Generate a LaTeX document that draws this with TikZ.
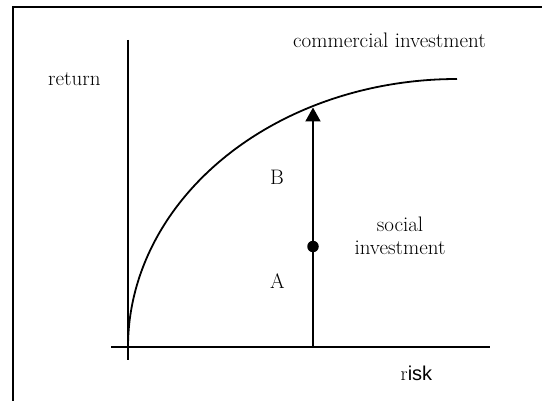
\documentclass[tikz,border=0pt]{standalone}
\usepackage{fontspec}
\newfontfamily\arialf{Liberation Sans}
\usetikzlibrary{arrows.meta}
\tikzset{
  axis/.style={line width=2pt},
  lbl/.style={inner sep=0pt, font=\fontsize{21}{23}\selectfont},
}
\begin{document}
\begin{tikzpicture}[x=1pt,y=-1pt]
\useasboundingbox (0,0) rectangle (542,401);
% frame
\coordinate (ftr) at (542,7);
\coordinate (ftl) at (13,7);
\coordinate (fbl) at (13,401);
\draw[axis] (ftr) -- (ftl) -- (fbl);
% axes
\coordinate (vt) at (128,40);
\coordinate (vb) at (128,360);
\coordinate (hl) at (111,347);
\coordinate (hr) at (490,347);
\draw[axis] (vt) -- (vb);
\draw[axis] (hl) -- (hr);
% curve (quarter ellipse)
\draw[line width=1.8pt] plot[domain=180:270, samples=90, smooth]
  ({457+329*cos(\x)}, {347+268*sin(\x)});
% arrow
\coordinate (ab) at (313,347);
\coordinate (at) at (313,107.5);
\draw[axis, -{Triangle[width=15pt,length=14pt]}] (ab) -- (at);
\node[circle, fill=black, inner sep=0pt, minimum size=11.5pt] (dot) at (313,246.5) {};
% labels
\node[lbl, anchor=base west] (ret) at (48,86) {return};
\node[lbl, anchor=base west] (com) at (293,47.3) {commercial investment};
\node[lbl, anchor=base west] (B) at (270,185) {B};
\node[lbl, anchor=base west] (A) at (270,288.3) {A};
\node[lbl, anchor=base, align=center] (soc) at (400,255) {social\\investment};
\node[inner sep=0pt, anchor=base west] (risk) at (400.5,380.7)
  {\fontsize{20}{23}\selectfont r\arialf\fontsize{20}{24}\selectfont isk};
\end{tikzpicture}
\end{document}
